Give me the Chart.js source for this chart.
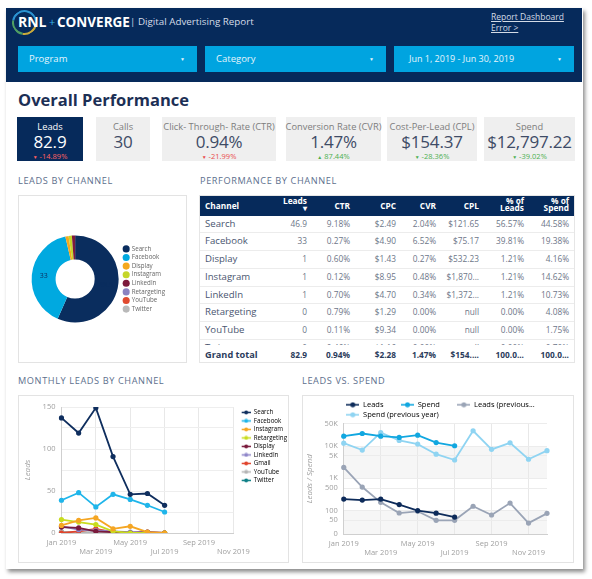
<!DOCTYPE html>
<html>
<head>
<meta charset="utf-8">
<title>Digital Advertising Report</title>
<script src="https://cdn.jsdelivr.net/npm/chart.js@4.4.1/dist/chart.umd.min.js"></script>
<style>
    * { box-sizing: border-box; }
    body { margin: 0; width: 592px; height: 579px; position: relative; overflow: hidden; background: #fff; font-family: "Open Sans", sans-serif; }
    .abs { position: absolute; white-space: nowrap; }
    #card { left: 6px; top: 8px; width: 577px; height: 561px; background: #fff; box-shadow: 2px 3px 4px rgba(0, 0, 0, 0.45); }
    #header { left: 6px; top: 8px; width: 576px; height: 74px; background: #062a5b; }
    .ring { left: 12px; top: 10px; width: 25px; height: 25px; border-radius: 50%; border: 2px solid; border-color: #2b93d1 #2b93d1 #c9a93b #4f9e63; transform: rotate(-35deg); }
    .dd { top: 46px; height: 26px; line-height: 26px; background: #00a4e0; color: #e6f5fc; font-size: 9.5px; padding-left: 11px; }
    .dd span { position: absolute; right: 12px; font-size: 5px; }
    .kpi { position: absolute; top: 117px; height: 44px; background: #efefef; text-align: center; white-space: nowrap; }
    .kpi .lbl { position: absolute; left: -15px; right: -15px; top: 4px; font-size: 9.3px; line-height: 12px; color: #7d7d7d; }
    .kpi .val { position: absolute; left: -15px; right: -15px; top: 14px; font-size: 17px; line-height: 22px; color: #3e4b66; letter-spacing: -0.2px; }
    .kpi .chg { position: absolute; left: 0; right: 0; top: 34.5px; font-size: 7.5px; line-height: 9px; }
    .kpi .chg b { font-size: 5px; font-weight: normal; margin-right: 2px; }
    .neg { color: #ea4b4b; }
    .pos { color: #4caf50; }
    .section { font-size: 9.2px; line-height: 12px; color: #5d6f8d; letter-spacing: 0.6px; }
    .box { border: 1px solid #e3e3e3; background: #fff; }
    #table { left: 199px; top: 195px; width: 376px; height: 168px; border: 1px solid #e6e6e6; }
    .trow { display: flex; height: 17.8px; line-height: 16.8px; border-bottom: 1px solid #ececec; }
    .trow div { text-align: right; padding-right: 5px; font-size: 8.3px; color: #6d7688; }
    .trow div:first-child { text-align: left; padding-left: 5px; font-size: 9.6px; color: #4a5670; }
    #thead { position: absolute; left: 0; top: 0; width: 374px; height: 19.5px; background: #062a5b; display: flex; }
    #thead div { color: #fff; font-weight: 700; font-size: 8.3px; text-align: right; padding-right: 5px; line-height: 19.5px; }
    #thead div:first-child { text-align: left; padding-left: 5px; }
    #thead .two { line-height: 6.8px; padding-top: 2px; }
    #tbody { position: absolute; left: 0; top: 19.5px; width: 374px; height: 129.5px; overflow: hidden; }
    #tfoot { position: absolute; left: 0; top: 150.5px; width: 374px; }
    #tfoot .trow { border-bottom: none; }
    #tfoot .trow div { font-weight: 700; color: #2b3c5c; }
    #tfoot .trow div:first-child { font-size: 9.2px; color: #2b3c5c; }
    canvas { position: absolute; }
</style>
</head>
<body>
<div id="card" class="abs"></div>
<div id="header" class="abs"></div>
<div class="abs ring"></div>
<div class="abs" style="left:18px;top:13px;line-height:18px;font-size:14px;font-weight:700;color:#fff">RNL</div>
<div class="abs" style="left:49px;top:13px;line-height:18px;font-size:11px;color:#36b3e6">+</div>
<div class="abs" style="left:57px;top:13px;line-height:18px;font-size:13.5px;font-weight:700;color:#fff">CONVERGE</div>
<div class="abs" style="left:130px;top:14px;line-height:16px;font-size:9.8px;color:#d5dde8">| Digital Advertising Report</div>
<div class="abs" style="left:491px;top:11px;line-height:12px;font-size:8.5px;color:#d3dbe6;text-decoration:underline">Report Dashboard</div>
<div class="abs" style="left:491px;top:22px;line-height:12px;font-size:8.5px;color:#d3dbe6;text-decoration:underline">Error &gt;</div>

<div class="abs dd" style="left:18px;width:179px">Program<span>▼</span></div>
<div class="abs dd" style="left:205px;width:181px">Category<span>▼</span></div>
<div class="abs dd" style="left:394px;width:180px;padding-left:15px;font-size:9px">Jun 1, 2019 - Jun 30, 2019<span>▼</span></div>

<div class="abs" style="left:18px;top:89px;line-height:22px;font-size:16.5px;font-weight:700;color:#1c2f55">Overall Performance</div>

<div class="kpi" style="left:17px;width:66px;background:#062a5b">
    <div class="lbl" style="color:#fff">Leads</div>
    <div class="val" style="color:#fff">82.9</div>
    <div class="chg neg" style="color:#ff6161"><b>▼</b>-14.89%</div>
</div>
<div class="kpi" style="left:96px;width:54px">
    <div class="lbl">Calls</div>
    <div class="val">30</div>
</div>
<div class="kpi" style="left:162px;width:114px">
    <div class="lbl">Click- Through- Rate (CTR)</div>
    <div class="val">0.94%</div>
    <div class="chg neg"><b>▼</b>-21.99%</div>
</div>
<div class="kpi" style="left:286px;width:95px">
    <div class="lbl">Conversion Rate (CVR)</div>
    <div class="val">1.47%</div>
    <div class="chg pos"><b>▲</b>87.44%</div>
</div>
<div class="kpi" style="left:387px;width:90px">
    <div class="lbl">Cost-Per-Lead (CPL)</div>
    <div class="val">$154.37</div>
    <div class="chg pos"><b>▼</b>-28.36%</div>
</div>
<div class="kpi" style="left:484px;width:91px">
    <div class="lbl">Spend</div>
    <div class="val">$12,797.22</div>
    <div class="chg pos"><b>▼</b>-39.02%</div>
</div>

<div class="abs section" style="left:18px;top:175px">LEADS BY CHANNEL</div>
<div class="abs section" style="left:200px;top:175px">PERFORMANCE BY CHANNEL</div>
<div class="abs section" style="left:18px;top:375px">MONTHLY LEADS BY CHANNEL</div>
<div class="abs section" style="left:302px;top:375px">LEADS VS. SPEND</div>

<div class="abs box" style="left:18px;top:195px;width:169px;height:168px"></div>
<canvas id="donut" width="167" height="166" style="left:19px;top:196px"></canvas>

<div id="table" class="abs">
    <div id="thead">
        <div style="width:72px">Channel</div>
        <div class="two" style="width:40px">Leads<br>▾</div>
        <div style="width:43px">CTR</div>
        <div style="width:46px">CPC</div>
        <div style="width:40px">CVR</div>
        <div style="width:43px">CPL</div>
        <div class="two" style="width:45px">% of<br>Leads</div>
        <div class="two" style="width:45px">% of<br>Spend</div>
    </div>
    <div id="tbody"></div>
    <div id="tfoot"></div>
</div>

<div class="abs box" style="left:18px;top:395px;width:271px;height:168px"></div>
<canvas id="monthly" width="269" height="166" style="left:19px;top:396px"></canvas>
<div class="abs box" style="left:302px;top:395px;width:272px;height:168px"></div>
<canvas id="leadsSpend" width="270" height="166" style="left:303px;top:396px"></canvas>

<script>
"use strict"

// leads by channel (donut + table)
const channels = ["Search", "Facebook", "Display", "Instagram", "LinkedIn", "Retargeting", "YouTube", "Twitter"]
const channelLeads = [46.9, 33, 1, 1, 1, 0, 0, 0]
const channelColors = ["#0a2d5e", "#00a9e0", "#f4a81d", "#c5d62a", "#7d1a3c", "#8b82c1", "#e04a2f", "#b9b9b9"]

const tableCtr = ["9.18%", "0.27%", "0.60%", "0.12%", "0.70%", "0.79%", "0.11%", "0.46%"]
const tableCpc = ["$2.49", "$4.90", "$1.43", "$8.95", "$4.70", "$1.29", "$9.34", "$1.16"]
const tableCvr = ["2.04%", "6.52%", "0.27%", "0.48%", "0.34%", "0.00%", "0.00%", "0.00%"]
const tableCpl = ["$121.65", "$75.17", "$532.23", "$1,870...", "$1,372...", "null", "null", "null"]
const tablePctLeads = ["56.57%", "39.81%", "1.21%", "1.21%", "1.21%", "0.00%", "0.00%", "0.00%"]
const tablePctSpend = ["44.58%", "19.38%", "4.16%", "14.62%", "10.73%", "4.08%", "1.75%", "0.70%"]
const grandTotal = ["Grand total", "82.9", "0.94%", "$2.28", "1.47%", "$154....", "100.0...", "100.0..."]
const columnWidths = [72, 40, 43, 46, 40, 43, 45, 45]

// monthly leads by channel
const monthLabels = ["Jan 2019", "Feb 2019", "Mar 2019", "Apr 2019", "May 2019", "Jun 2019",
    "Jul 2019", "Aug 2019", "Sep 2019", "Oct 2019", "Nov 2019", "Dec 2019"]
const monthlyChannels = ["Search", "Facebook", "Instagram", "Retargeting", "Display", "LinkedIn", "Gmail", "YouTube", "Twitter"]
const monthlyColors = ["#0f2e5e", "#1fb5ea", "#f5a623", "#c8dc1e", "#7a1a3c", "#8f86c9", "#e0442c", "#b5b5b5", "#0d7f86"]
const searchLeads = [137, 119, 149, 91, 46, 47, 33]
const facebookLeads = [39, 48, 31, 46, 40, 33, 25]
const instagramLeads = [9, 15, 18, 5, 8, 1, 0]
const retargetingLeads = [16, 13, 10, 2, 0, 0, 0]
const displayLeads = [7, 6, 2, 1, 0, 1, 0]
const linkedinLeads = [8, 4, 3, 2, 1, 1, 0]
const gmailLeads = [0, 2, 5, 1, 0, 0, 0]
const youtubeLeads = [1, 1, 1, 1, 0, 0, 0]
const twitterLeads = [1, 0, 0, 0, 0, 0, 0]

// leads vs. spend (log axis)
const leadsTotal = [228, 212, 228, 153, 100, 83, 63]
const spendTotal = [20300, 24500, 20300, 18500, 21700, 12800, 10200]
const leadsPrevYear = [2180, 536, 180, 84, 95, 50, 50, 136, 73, 171, 41, 82]
const spendPrevYear = [12300, 7500, 26000, 14900, 11500, 5600, 3700, 29800, 7900, 12600, 3900, 7200]
const spendSeriesNames = ["Leads", "Spend", "Leads (previous...", "Spend (previous year)"]
const spendSeriesColors = ["#0d2b5a", "#11a7e0", "#9aa4b6", "#8fd4f2"]
const logAxisBottom = 18.8   // shown as "0"
const logTickValues = [logAxisBottom, 50, 100, 500, 1000, 5000, 10000, 50000]
const logTickLabels = ["0", "50", "100", "500", "1K", "5K", "10K", "50K"]
const shadedBands = [[1000, 10000], [logAxisBottom, 100]]

Chart.defaults.font.family = "'Open Sans', sans-serif"

// line-with-dot legend swatch; lead leaves empty room on the left of the swatch
function legendMarker(color, width, height, radius, lineWidth, lead) {
    lead = lead || 0
    let c = document.createElement("canvas")
    c.width = width + lead
    c.height = height
    let g = c.getContext("2d")
    g.strokeStyle = color
    g.lineWidth = lineWidth
    g.beginPath()
    g.moveTo(lead, height / 2)
    g.lineTo(lead + width, height / 2)
    g.stroke()
    g.fillStyle = color
    g.beginPath()
    g.arc(lead + width / 2, height / 2, radius, 0, Math.PI * 2)
    g.fill()
    return c
}

function staggeredLabel(value, index) {
    let label = this.getLabelForValue(value)
    if (index % 4 === 0) return [label, ""]
    if (index % 4 === 2) return ["", label]
    return ""
}

function evenGrid(ctx) {
    return ctx.index % 2 === 0 ? "#e8e8e8" : "rgba(0,0,0,0)"
}

function buildTable() {
    let body = document.getElementById("tbody")
    for (let i = 0; i < channels.length; i++) {
        let cells = [channels[i], String(channelLeads[i]), tableCtr[i], tableCpc[i], tableCvr[i], tableCpl[i], tablePctLeads[i], tablePctSpend[i]]
        body.appendChild(makeRow(cells))
    }
    document.getElementById("tfoot").appendChild(makeRow(grandTotal))
}

function makeRow(cells) {
    let row = document.createElement("div")
    row.className = "trow"
    for (let j = 0; j < cells.length; j++) {
        let cell = document.createElement("div")
        cell.style.width = columnWidths[j] + "px"
        cell.textContent = cells[j]
        row.appendChild(cell)
    }
    return row
}

const sliceValues = {
    id: "sliceValues",
    afterDatasetsDraw(chart) {
        let ctx = chart.ctx
        let data = chart.data.datasets[0].data
        let total = data.reduce((a, b) => a + b, 0)
        ctx.save()
        ctx.font = "7px 'Open Sans'"
        ctx.fillStyle = "#0a2d5e"
        ctx.textAlign = "center"
        ctx.textBaseline = "middle"
        chart.getDatasetMeta(0).data.forEach((arc, i) => {
            if (data[i] / total < 0.1) return
            let p = arc.tooltipPosition()
            ctx.fillText(data[i], p.x, p.y)
        })
        ctx.restore()
    }
}

function displayLeadsByChannel() {
    new Chart(document.getElementById("donut"), {
        type: "doughnut",
        data: {
            labels: channels,
            datasets: [{ data: channelLeads, backgroundColor: channelColors, borderWidth: 0 }]
        },
        options: {
            responsive: false,
            animation: false,
            devicePixelRatio: 1,
            cutout: "45%",
            layout: { padding: { left: 10, right: 11, top: 39.5, bottom: 39.5 } },
            plugins: {
                tooltip: { enabled: false },
                legend: {
                    position: "right",
                    labels: {
                        usePointStyle: true,
                        pointStyle: "circle",
                        boxWidth: 5,
                        boxHeight: 5,
                        padding: 2.4,
                        color: "#666",
                        font: { size: 6.2 }
                    }
                }
            }
        },
        plugins: [sliceValues]
    })
}

function displayMonthlyLeads() {
    let series = [searchLeads, facebookLeads, instagramLeads, retargetingLeads, displayLeads,
        linkedinLeads, gmailLeads, youtubeLeads, twitterLeads]
    let datasets = series.map((values, i) => ({
        label: monthlyChannels[i],
        data: values,
        borderColor: monthlyColors[i],
        backgroundColor: monthlyColors[i],
        pointBackgroundColor: monthlyColors[i],
        pointBorderWidth: 0,
        pointRadius: 2.6,
        borderWidth: 1.8,
        tension: 0
    }))

    new Chart(document.getElementById("monthly"), {
        type: "line",
        data: { labels: monthLabels.slice(0, 11), datasets: datasets },
        options: {
            responsive: false,
            animation: false,
            devicePixelRatio: 1,
            layout: { padding: { left: 4, right: -9, top: 11, bottom: 1 } },
            scales: {
                x: {
                    grid: { color: evenGrid, drawTicks: false },
                    border: { color: "#cfcfcf" },
                    ticks: {
                        autoSkip: false, maxRotation: 0, padding: 5,
                        color: "#a0a0a0", font: { size: 7.5 },
                        callback: staggeredLabel
                    }
                },
                y: {
                    min: 0,
                    max: 150,
                    grid: { color: "#eeeeee", drawTicks: false },
                    border: { color: "#cfcfcf" },
                    ticks: {
                        stepSize: 25, padding: 6, color: "#a0a0a0", font: { size: 7.5 },
                        callback: v => (v % 50 === 0 ? v : "")
                    },
                    title: { display: true, text: "Leads", color: "#a0a0a0", font: { size: 8, style: "italic" }, padding: { top: 0, bottom: 4 } }
                }
            },
            plugins: {
                tooltip: { enabled: false },
                legend: {
                    position: "right",
                    align: "start",
                    labels: {
                        usePointStyle: true,
                        pointStyleWidth: 15,
                        padding: 2.3,
                        color: "#777",
                        font: { size: 6.2 },
                        generateLabels: chart => chart.data.datasets.map((ds, i) => ({
                            text: ds.label,
                            fillStyle: ds.borderColor,
                            strokeStyle: ds.borderColor,
                            lineWidth: 0,
                            pointStyle: legendMarker(ds.borderColor, 9, 5, 2, 1.5, 6),
                            hidden: false,
                            datasetIndex: i
                        }))
                    }
                }
            }
        }
    })
}

const logBands = {
    id: "logBands",
    beforeDraw(chart) {
        let { ctx, chartArea, scales } = chart
        ctx.save()
        ctx.fillStyle = "#f6f6f6"
        for (let band of shadedBands) {
            let top = scales.y.getPixelForValue(band[1])
            let bottom = scales.y.getPixelForValue(band[0])
            ctx.fillRect(chartArea.left, top, chartArea.width, bottom - top)
        }
        ctx.restore()
    }
}

// legend sits closer to the plot than chart.js would put it
const tightLegend = {
    id: "tightLegend",
    beforeInit(chart) {
        let fit = chart.legend.fit
        chart.legend.fit = function () {
            fit.call(this)
            this.height -= 5
        }
    }
}

function displayLeadsVsSpend() {
    let series = [leadsTotal, spendTotal, leadsPrevYear, spendPrevYear]
    let datasets = series.map((values, i) => ({
        label: spendSeriesNames[i],
        data: values,
        borderColor: spendSeriesColors[i],
        backgroundColor: spendSeriesColors[i],
        pointBackgroundColor: spendSeriesColors[i],
        pointBorderWidth: 0,
        pointRadius: 2.6,
        borderWidth: 1.8,
        tension: 0
    }))

    new Chart(document.getElementById("leadsSpend"), {
        type: "line",
        data: { labels: monthLabels, datasets: datasets },
        options: {
            responsive: false,
            animation: false,
            devicePixelRatio: 1,
            layout: { padding: { left: 2, right: 26, top: 2.5, bottom: 0 } },
            scales: {
                x: {
                    grid: { color: evenGrid, drawTicks: false },
                    border: { color: "#cfcfcf" },
                    ticks: {
                        autoSkip: false, maxRotation: 0, padding: 5,
                        color: "#a0a0a0", font: { size: 7.5 },
                        callback: staggeredLabel
                    }
                },
                y: {
                    type: "logarithmic",
                    min: logAxisBottom,
                    max: 50000,
                    afterBuildTicks: axis => {
                        axis.ticks = logTickValues.map(v => ({ value: v }))
                    },
                    grid: { color: "#ececec", drawTicks: false },
                    border: { color: "#cfcfcf" },
                    ticks: {
                        autoSkip: false, padding: 6, color: "#a0a0a0", font: { size: 7.5 },
                        callback: v => logTickLabels[logTickValues.indexOf(v)]
                    },
                    title: { display: true, text: "Leads / Spend", color: "#a0a0a0", font: { size: 8, style: "italic" }, padding: { top: 0, bottom: 4 } }
                }
            },
            plugins: {
                tooltip: { enabled: false },
                legend: {
                    position: "top",
                    align: "start",
                    fullSize: false,
                    labels: {
                        usePointStyle: true,
                        pointStyleWidth: 13,
                        padding: 2.5,
                        color: "#777",
                        font: { size: 7.5 },
                        generateLabels: chart => chart.data.datasets.map((ds, i) => ({
                            text: i < 2 ? ds.label + "\u2003\u2003" : ds.label,
                            fillStyle: ds.borderColor,
                            strokeStyle: ds.borderColor,
                            lineWidth: 0,
                            pointStyle: legendMarker(ds.borderColor, 13, 6, 2.5, 1.6),
                            hidden: false,
                            datasetIndex: i
                        }))
                    }
                }
            }
        },
        plugins: [logBands, tightLegend]
    })
}

buildTable()
displayLeadsByChannel()
displayMonthlyLeads()
displayLeadsVsSpend()
</script>
</body>
</html>
